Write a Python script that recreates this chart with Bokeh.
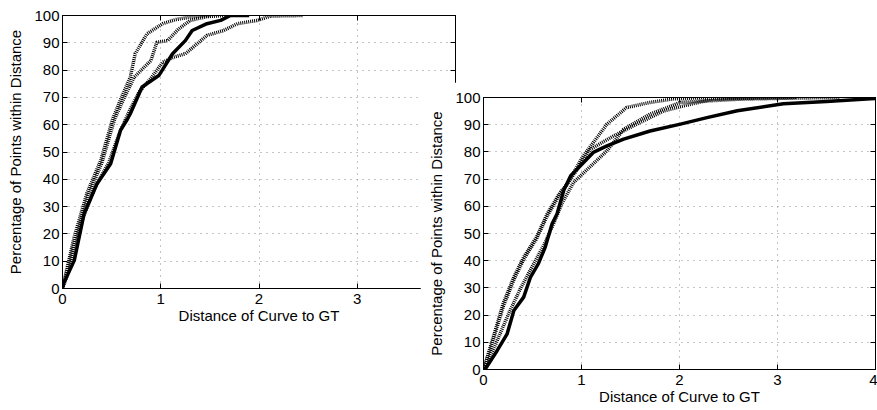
from bokeh.plotting import figure
from bokeh.models import LinearAxis, FixedTicker, Range1d
from bokeh.layouts import row
from bokeh.embed import file_html
from bokeh.resources import INLINE

# ---------------- data ----------------
x_ticks = [0, 1, 2, 3, 4]
y_ticks = [0, 10, 20, 30, 40, 50, 60, 70, 80, 90, 100]
x_label = "Distance of Curve to GT"
y_label = "Percentage of Points within Distance"

# left chart
left_solid_x = [0, 0.01, 0.12, 0.22, 0.35, 0.49, 0.59, 0.66, 0.69, 0.81, 0.98, 1.12, 1.25, 1.32, 1.47, 1.61, 1.71, 1.9]
left_solid_y = [0, 1.7, 10.3, 27.4, 38.3, 45.7, 57.9, 62, 64, 73.8, 78, 86, 90.8, 94.5, 97, 98.2, 100, 100]
left_a_x = [0, 0.05, 0.12, 0.25, 0.39, 0.51, 0.60, 0.69, 0.74, 0.86, 1.02, 1.15, 1.30, 1.50]
left_a_y = [0, 8, 19, 35, 47, 62, 70, 77.4, 86, 93.3, 97, 98.5, 99.4, 100]
left_b_x = [0, 0.05, 0.13, 0.26, 0.40, 0.53, 0.63, 0.73, 0.90, 0.96, 1.07, 1.18, 1.30, 1.47, 1.65]
left_b_y = [0, 7, 18, 34, 46, 62, 70, 77.4, 83.5, 90.2, 90.8, 95, 98.2, 99.6, 100]
left_c_x = [0, 0.08, 0.20, 0.33, 0.47, 0.58, 0.68, 0.78, 0.90, 1.02, 1.13, 1.25, 1.37, 1.47, 1.64, 1.78, 1.98, 2.12, 2.45]
left_c_y = [0, 8, 25, 37, 46, 57, 65, 72, 77, 82.9, 84.7, 86, 89.6, 92.7, 94.5, 97, 98.2, 99.8, 100]

# right chart
right_solid_x = [0, 0.02, 0.14, 0.24, 0.31, 0.41, 0.48, 0.56, 0.63, 0.70, 0.75, 0.82, 0.89, 1.12, 1.26, 1.43, 1.70, 2.01, 2.28, 2.59, 3.06, 3.50, 3.95, 4.0]
right_solid_y = [0, 0.3, 7, 13, 21.7, 26.6, 34, 38.9, 45, 53.6, 57.2, 66, 71.2, 79.8, 82.2, 84.7, 87.7, 90.2, 92.6, 95.1, 97.7, 98.5, 99.5, 99.6]
right_a_x = [0, 0.10, 0.20, 0.31, 0.41, 0.54, 0.65, 0.78, 0.84, 1.02, 1.26, 1.46, 1.70, 1.94, 2.30]
right_a_y = [0, 11.9, 24.2, 34, 41.3, 48.6, 57.2, 65, 67.5, 78.6, 90.2, 96.3, 98.2, 99.5, 100]
right_b_x = [0, 0.10, 0.20, 0.31, 0.41, 0.54, 0.65, 0.78, 0.89, 1.09, 1.33, 1.53, 1.84, 2.11, 2.35, 2.80, 3.20]
right_b_y = [0, 11, 23, 33, 40.5, 48, 56.5, 64.5, 70, 81, 85.9, 89.6, 95.1, 97.5, 99.4, 99.8, 100]
right_c_x = [0, 0.12, 0.25, 0.38, 0.50, 0.62, 0.72, 0.80, 0.92, 1.06, 1.26, 1.43, 1.70, 2.01, 2.62, 3.20, 3.64]
right_c_y = [0, 9, 20, 30, 38, 46, 54, 61, 68.8, 73.6, 80.4, 88.3, 93.9, 98.2, 99.4, 99.8, 100]

FONT = "Liberation Sans"
FS = "15px"


def make_plot(width, height, mb_left, mb_right, mb_top, mb_bottom, solid, dotted):
    p = figure(width=width, height=height, x_range=Range1d(0, 4), y_range=Range1d(0, 100),
               output_backend="svg", toolbar_location=None,
               min_border_left=mb_left, min_border_right=mb_right,
               min_border_top=mb_top, min_border_bottom=mb_bottom,
               background_fill_color="white", border_fill_color="white")
    p.outline_line_color = "black"
    p.outline_line_width = 1
    p.outline_line_alpha = 1

    p.xaxis.ticker = FixedTicker(ticks=x_ticks)
    p.yaxis.ticker = FixedTicker(ticks=y_ticks)
    p.xgrid.ticker = FixedTicker(ticks=x_ticks)
    p.ygrid.ticker = FixedTicker(ticks=y_ticks)
    for g in (p.xgrid, p.ygrid):
        g.grid_line_color = "#8a8a8a"
        g.grid_line_dash = "1 5"
        g.grid_line_width = 1

    for ax in (p.xaxis, p.yaxis):
        ax.axis_line_color = "black"
        ax.major_tick_in = 5
        ax.major_tick_out = 0
        ax.major_tick_line_color = "black"
        ax.minor_tick_line_color = None
        ax.major_label_text_font = FONT
        ax.major_label_text_font_size = FS
        ax.major_label_text_color = "black"
        ax.axis_label_text_font = FONT
        ax.axis_label_text_font_size = FS
        ax.axis_label_text_font_style = "normal"
        ax.axis_label_text_color = "black"
    p.xaxis.axis_label = x_label
    p.yaxis.axis_label = y_label
    p.xaxis.major_label_standoff = 5
    p.xaxis.axis_label_standoff = 0
    p.yaxis.major_label_standoff = 3
    p.yaxis.axis_label_standoff = 7

    top = LinearAxis(ticker=FixedTicker(ticks=x_ticks), major_tick_in=5, major_tick_out=0,
                     minor_tick_line_color=None, major_label_text_font_size="0px",
                     major_label_standoff=0, axis_line_color="black")
    right = LinearAxis(ticker=FixedTicker(ticks=y_ticks), major_tick_in=5, major_tick_out=0,
                       minor_tick_line_color=None, major_label_text_font_size="0px",
                       major_label_standoff=0, axis_line_color="black")
    p.add_layout(top, "above")
    p.add_layout(right, "right")

    for xs, ys in dotted:
        p.line(xs, ys, line_color="black", line_width=3.5, line_dash="1 1")
    p.line(solid[0], solid[1], line_color="black", line_width=3.5, line_join="round")
    return p


p1 = make_plot(460, 329, 62, 5, 15, 41,
               (left_solid_x, left_solid_y),
               [(left_a_x, left_a_y), (left_b_x, left_b_y), (left_c_x, left_c_y)])
p2 = make_plot(457, 328, 63, 2, 15, 41,
               (right_solid_x, right_solid_y),
               [(right_a_x, right_a_y), (right_b_x, right_b_y), (right_c_x, right_c_y)])
p2.margin = (82, 0, 0, -40)

layout = row(p1, p2)
open("out.html", "w").write(file_html(layout, INLINE))
